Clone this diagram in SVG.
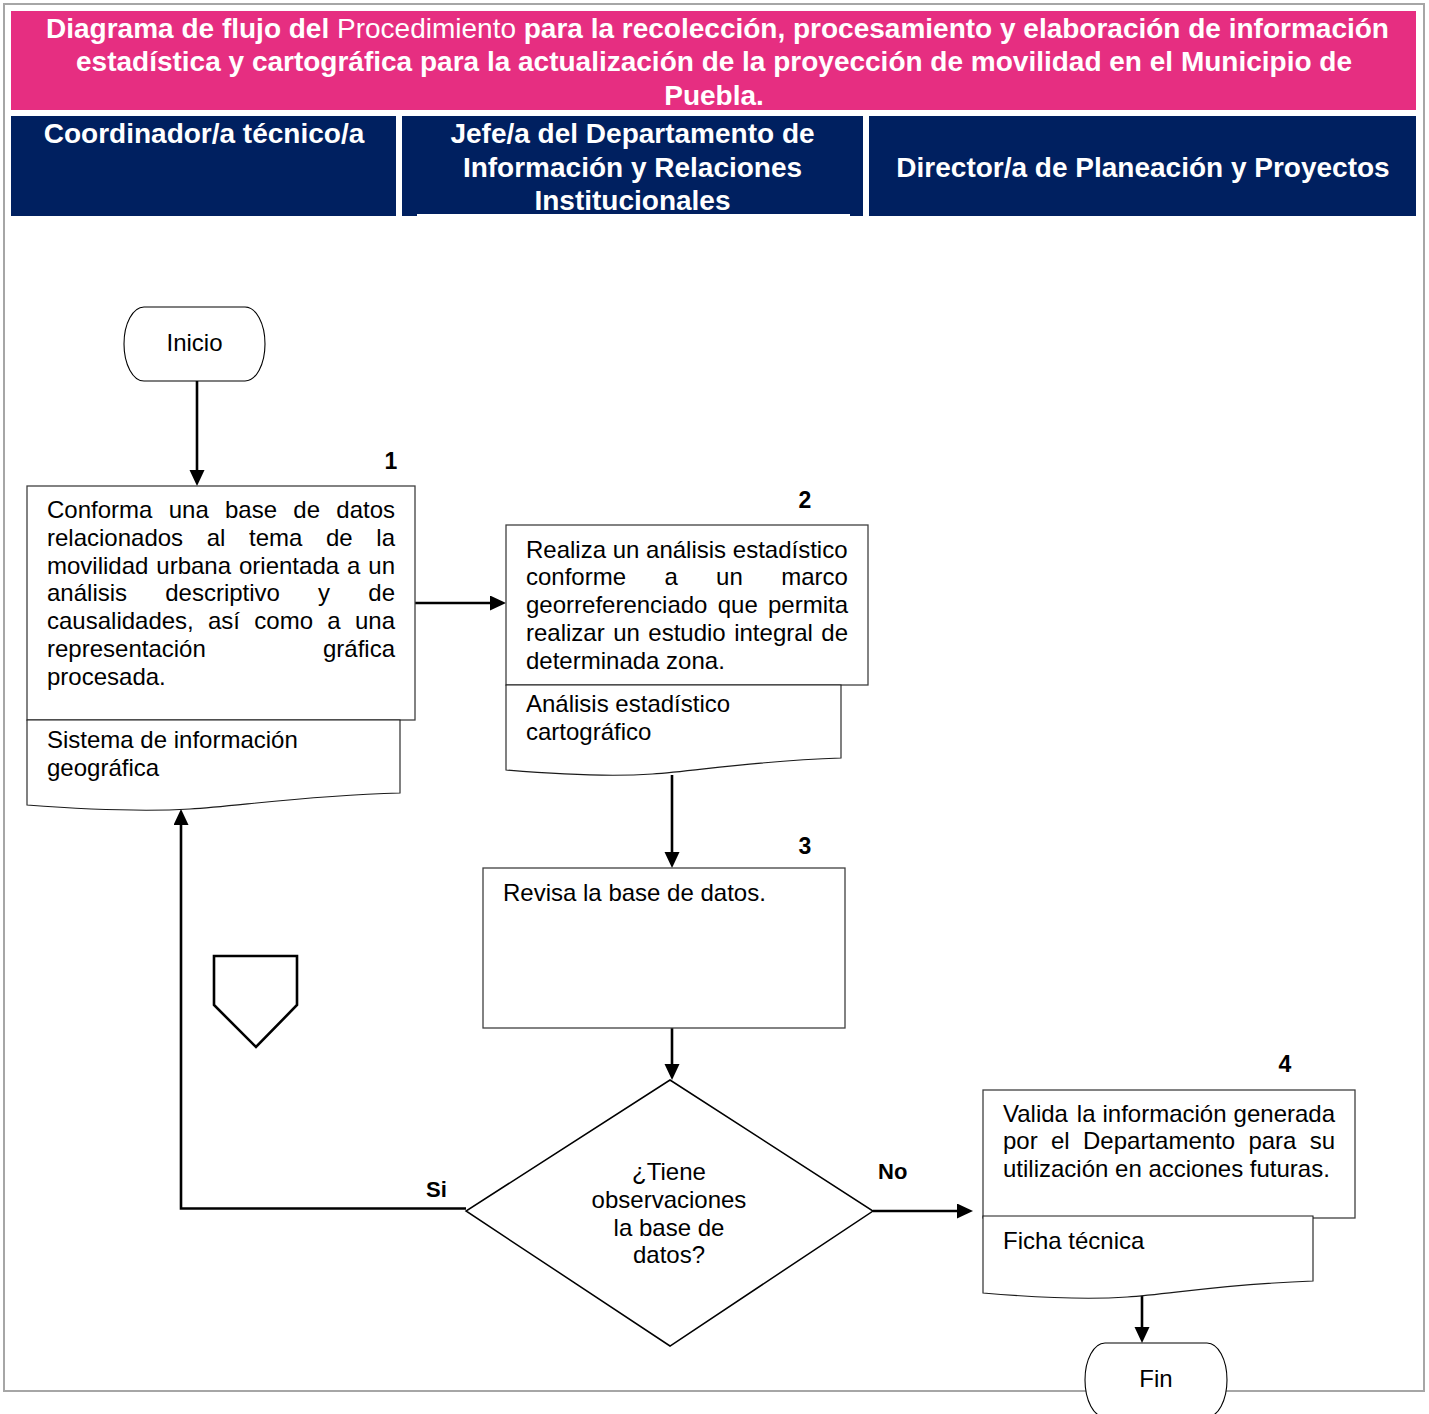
<svg xmlns="http://www.w3.org/2000/svg" width="1429" height="1414" viewBox="0 0 1429 1414">
  <defs>
    <style>
      .frame { fill: none; stroke: #a6a6a6; stroke-width: 2; }
      .banner { fill: #e62e81; }
      .lane { fill: #002060; }
      .hdr { font-family: "Liberation Sans", Arial, sans-serif; font-size: 28px; font-weight: bold; fill: #ffffff; text-anchor: middle; }
      .box { fill: #ffffff; stroke: #404040; stroke-width: 1.3; }
      .doc { fill: #ffffff; stroke: #1a1a1a; stroke-width: 1.1; }
      .term { fill: #ffffff; stroke: #000000; stroke-width: 1.1; }
      .dec { fill: #ffffff; stroke: #000000; stroke-width: 1.5; }
      .off { fill: #ffffff; stroke: #000000; stroke-width: 2.6; }
      .t { font-family: "Liberation Sans", Arial, sans-serif; font-size: 24px; fill: #000000; }
      .c { text-anchor: middle; }
      .num { font-family: "Liberation Sans", Arial, sans-serif; font-size: 23px; font-weight: bold; fill: #000000; text-anchor: middle; }
      .lbl { font-family: "Liberation Sans", Arial, sans-serif; font-size: 22px; font-weight: bold; fill: #000000; }
      .conn { fill: none; stroke: #000000; stroke-width: 2.6; }
    </style>
    <marker id="arrow" markerUnits="userSpaceOnUse" markerWidth="17" markerHeight="16" refX="8" refY="7.5" orient="auto">
      <path d="M0,0 L16,7.5 L0,15 z" fill="#000000"/>
    </marker>
  </defs>

  <rect width="1429" height="1414" fill="#ffffff"/>
  <rect class="frame" x="4" y="4" width="1420" height="1387"/>

  <!-- Title banner -->
  <g id="title">
    <rect class="banner" x="11" y="11" width="1405" height="99"/>
    <text class="hdr" x="717.5" y="37.5">Diagrama de flujo del <tspan font-weight="normal">Procedimiento</tspan> para la recolección, procesamiento y elaboración de información</text>
    <text class="hdr" x="714" y="71">estadística y cartográfica para la actualización de la proyección de movilidad en el Municipio de</text>
    <text class="hdr" x="714" y="104.5">Puebla.</text>
  </g>

  <!-- Swimlane headers -->
  <g id="lane-coordinador">
    <rect class="lane" x="11" y="116" width="385" height="100"/>
    <text class="hdr" x="204" y="143">Coordinador/a técnico/a</text>
  </g>
  <g id="lane-jefe">
    <rect class="lane" x="402" y="116" width="461" height="100"/>
    <rect x="417" y="214" width="433" height="2.5" fill="#ffffff"/>
    <text class="hdr" x="632.5" y="143">Jefe/a del Departamento de</text>
    <text class="hdr" x="632.5" y="176.5">Información y Relaciones</text>
    <text class="hdr" x="632.5" y="210">Institucionales</text>
  </g>
  <g id="lane-director">
    <rect class="lane" x="869" y="116" width="547" height="100"/>
    <text class="hdr" x="1143" y="177">Director/a de Planeación y Proyectos</text>
  </g>

  <!-- Connectors -->
  <g id="connectors">
    <path class="conn" d="M197,381 V478" marker-end="url(#arrow)"/>
    <path class="conn" d="M415,603 H498" marker-end="url(#arrow)"/>
    <path class="conn" d="M672,775 V860" marker-end="url(#arrow)"/>
    <path class="conn" d="M672,1028 V1072" marker-end="url(#arrow)"/>
    <path class="conn" d="M466,1208.5 H181 V817" marker-end="url(#arrow)"/>
    <path class="conn" d="M873,1211 H965" marker-end="url(#arrow)"/>
    <path class="conn" d="M1142,1294 V1335" marker-end="url(#arrow)"/>
    <text class="lbl" x="426" y="1197">Si</text>
    <text class="lbl" x="878" y="1179">No</text>
  </g>

  <!-- Start -->
  <g id="inicio">
    <rect class="term" x="124" y="307" width="141" height="74" rx="20" ry="37"/>
    <text class="t c" x="194.5" y="351">Inicio</text>
  </g>

  <!-- Step 1 -->
  <g id="paso-1">
    <text class="num" x="391" y="469">1</text>
    <rect class="box" x="27" y="486" width="388" height="234"/>
    <path class="doc" d="M27,720 H400 V793 C300,796 240,806 190,809 C140,812 80,809 27,805 Z"/>
    <text class="t" y="518"><tspan x="47">Conforma</tspan><tspan x="168.7">una</tspan><tspan x="225">base</tspan><tspan x="293.3">de</tspan><tspan x="336.3">datos</tspan></text>
    <text class="t" y="545.8"><tspan x="47">relacionados</tspan><tspan x="206.7">al</tspan><tspan x="249">tema</tspan><tspan x="326">de</tspan><tspan x="376.3">la</tspan></text>
    <text class="t" y="573.6"><tspan x="47">movilidad</tspan><tspan x="156.3">urbana</tspan><tspan x="239">orientada</tspan><tspan x="347">a</tspan><tspan x="368.3">un</tspan></text>
    <text class="t" y="601.4"><tspan x="47">análisis</tspan><tspan x="165.2">descriptivo</tspan><tspan x="318.1">y</tspan><tspan x="368.3">de</tspan></text>
    <text class="t" y="629.2"><tspan x="47">causalidades,</tspan><tspan x="208">así</tspan><tspan x="254.3">como</tspan><tspan x="327.3">a</tspan><tspan x="355">una</tspan></text>
    <text class="t" y="657"><tspan x="47">representación</tspan><tspan x="323">gráfica</tspan></text>
    <text class="t" x="47" y="684.8">procesada.</text>
    <text class="t" x="47" y="747.7">Sistema de información</text>
    <text class="t" x="47" y="775.5">geográfica</text>
  </g>

  <!-- Step 2 -->
  <g id="paso-2">
    <text class="num" x="805" y="508">2</text>
    <rect class="box" x="506" y="525" width="362" height="160"/>
    <path class="doc" d="M506,685 H841 V758 C751.2,761 697.3,771 652.4,774 C607.5,777 553.6,774 506,770 Z"/>
    <text class="t" x="526" y="557.5">Realiza un análisis estadístico</text>
    <text class="t" y="585.3"><tspan x="526">conforme</tspan><tspan x="664.4">a</tspan><tspan x="716.1">un</tspan><tspan x="781.2">marco</tspan></text>
    <text class="t" y="613.1"><tspan x="526">georreferenciado</tspan><tspan x="717.7">que</tspan><tspan x="768">permita</tspan></text>
    <text class="t" y="640.9"><tspan x="526">realizar</tspan><tspan x="613.2">un</tspan><tspan x="648.3">estudio</tspan><tspan x="734.2">integral</tspan><tspan x="821.3">de</tspan></text>
    <text class="t" x="526" y="668.7">determinada zona.</text>
    <text class="t" x="526" y="711.7">Análisis estadístico</text>
    <text class="t" x="526" y="739.5">cartográfico</text>
  </g>

  <!-- Step 3 -->
  <g id="paso-3">
    <text class="num" x="805" y="854">3</text>
    <rect class="box" x="483" y="868" width="362" height="160"/>
    <text class="t" x="503" y="900.5">Revisa la base de datos.</text>
  </g>

  <!-- Decision -->
  <g id="decision">
    <polygon class="dec" points="670,1080 873,1211 670,1346 466,1211"/>
    <text class="t c" x="669" y="1180">¿Tiene</text>
    <text class="t c" x="669" y="1207.8">observaciones</text>
    <text class="t c" x="669" y="1235.6">la base de</text>
    <text class="t c" x="669" y="1263.4">datos?</text>
  </g>

  <!-- Off-page connector -->
  <g id="conector-pagina">
    <polygon class="off" points="214,956 297,956 297,1005 256,1047 214,1005"/>
  </g>

  <!-- Step 4 -->
  <g id="paso-4">
    <text class="num" x="1285" y="1072">4</text>
    <rect class="box" x="983" y="1090" width="372" height="128"/>
    <path class="doc" d="M983,1216 H1313 V1281 C1224.6,1284 1171.4,1294 1127.2,1297 C1083,1300 1029.9,1297 983,1293 Z"/>
    <text class="t" y="1121.5"><tspan x="1003">Valida</tspan><tspan x="1076.8">la</tspan><tspan x="1102.5">información</tspan><tspan x="1233.6">generada</tspan></text>
    <text class="t" y="1149.3"><tspan x="1003">por</tspan><tspan x="1051">el</tspan><tspan x="1083">Departamento</tspan><tspan x="1248.4">para</tspan><tspan x="1309.7">su</tspan></text>
    <text class="t" x="1003" y="1177.1">utilización en acciones futuras.</text>
    <text class="t" x="1003" y="1248.5">Ficha técnica</text>
  </g>

  <!-- End -->
  <g id="fin">
    <rect class="term" x="1085" y="1343" width="142" height="74" rx="20" ry="37"/>
    <text class="t c" x="1156" y="1387">Fin</text>
  </g>
</svg>
